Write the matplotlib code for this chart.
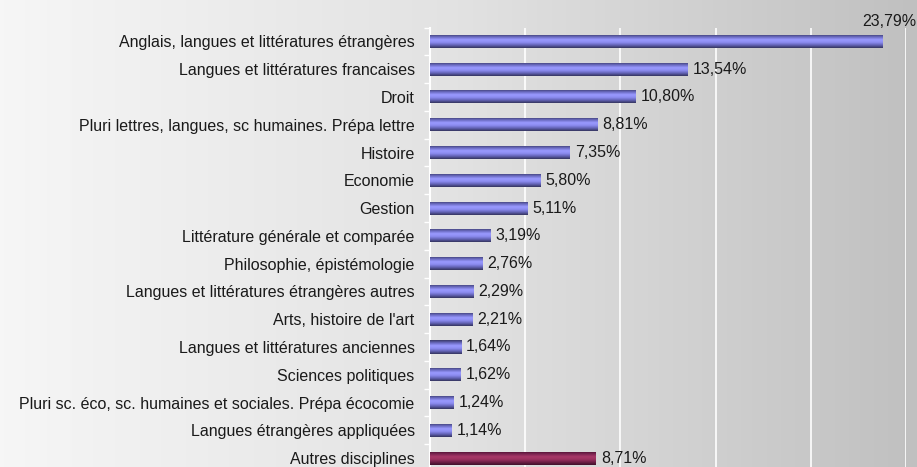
import numpy as np
import matplotlib
matplotlib.use("Agg")
import matplotlib.pyplot as plt
from matplotlib.colors import LinearSegmentedColormap

categories = [
    "Anglais, langues et littératures étrangères",
    "Langues et littératures francaises",
    "Droit",
    "Pluri lettres, langues, sc humaines. Prépa lettre",
    "Histoire",
    "Economie",
    "Gestion",
    "Littérature générale et comparée",
    "Philosophie, épistémologie",
    "Langues et littératures étrangères autres",
    "Arts, histoire de l'art",
    "Langues et littératures anciennes",
    "Sciences politiques",
    "Pluri sc. éco, sc. humaines et sociales. Prépa écocomie",
    "Langues étrangères appliquées",
    "Autres disciplines",
]
values = [23.79, 13.54, 10.80, 8.81, 7.35, 5.80, 5.11, 3.19, 2.76, 2.29, 2.21, 1.64, 1.62, 1.24, 1.14, 8.71]
groups = ["main"] * 15 + ["other"]

plt.rcParams['font.family'] = ['Liberation Sans', 'DejaVu Sans']
FS = 11.5

W, H = 917, 467
fig = plt.figure(figsize=(W / 100, H / 100), dpi=100)

# background gradient
bg = fig.add_axes([0, 0, 1, 1], zorder=0)
bg_cmap = LinearSegmentedColormap.from_list("bg", ["#f6f6f6", "#e2e2e2", "#c0c0c0"])
bg.imshow(np.linspace(0, 1, 256)[None, :], aspect='auto', cmap=bg_cmap,
          extent=[0, 1, 0, 1], transform=bg.transAxes)
bg.set_axis_off()

left = 430 / W
right = 906 / W
top = 1 - 27.5 / H
bottom = -5 / H
ax = fig.add_axes([left, bottom, right - left, top - bottom], zorder=1)
ax.set_facecolor('none')

n = len(categories)
ypos = np.arange(n)
bar_h = 0.47

grad = {
    "main": LinearSegmentedColormap.from_list("b", ["#3a3a68", "#6a6ac0", "#9a9aff", "#8c8cf0", "#6262b4", "#34345e"]),
    "other": LinearSegmentedColormap.from_list("m", ["#4a1030", "#7a2450", "#a83868", "#9a305e", "#6e1e46", "#40102a"]),
}
mid = {"main": "#8c8cf0", "other": "#a03060"}

bars = ax.barh(ypos, values, height=bar_h, color=[mid[g] for g in groups], zorder=3)
prof = np.linspace(0, 1, 64)[:, None]
for rect, g in zip(bars, groups):
    x0, y0 = rect.get_x(), rect.get_y()
    w, h = rect.get_width(), rect.get_height()
    im = ax.imshow(prof, aspect='auto', cmap=grad[g], extent=[x0, x0 + w, y0 + h, y0],
                   zorder=4, interpolation='bilinear')
    im.set_clip_path(rect)

ax.set_xlim(0, 25)
ax.set_ylim(n - 0.5, -0.5)

def fmt(v):
    return f"{v:.2f}".replace(".", ",") + "%"

for i, (v, rect) in enumerate(zip(values, bars)):
    if i == 0:
        ax.annotate(fmt(v), xy=(v, i), xytext=(6, 20), textcoords='offset pixels',
                    ha='center', va='center', fontsize=FS, color='#1a1a1a', zorder=5,
                    annotation_clip=False)
    else:
        ax.annotate(fmt(v), xy=(v, i), xytext=(5, 0), textcoords='offset pixels',
                    ha='left', va='center', fontsize=FS, color='#1a1a1a', zorder=5)

ax.set_yticks(ypos)
ax.set_yticklabels(categories, fontsize=FS, color='#1a1a1a')
ax.set_yticks(np.arange(-0.5, n, 1), minor=True)
ax.tick_params(axis='y', which='major', length=0, pad=11)
ax.tick_params(axis='y', which='minor', length=4, color='white', width=1)

ax.set_xticks([5, 10, 15, 20, 25])
ax.tick_params(axis='x', which='both', length=0, labelbottom=False)
ax.grid(axis='x', color='white', linewidth=1.2, zorder=1)
ax.set_axisbelow(True)

for s in ['top', 'right', 'bottom']:
    ax.spines[s].set_visible(False)
ax.spines['left'].set_color('white')
ax.spines['left'].set_linewidth(1.5)

fig.savefig("out.png", dpi=100)
